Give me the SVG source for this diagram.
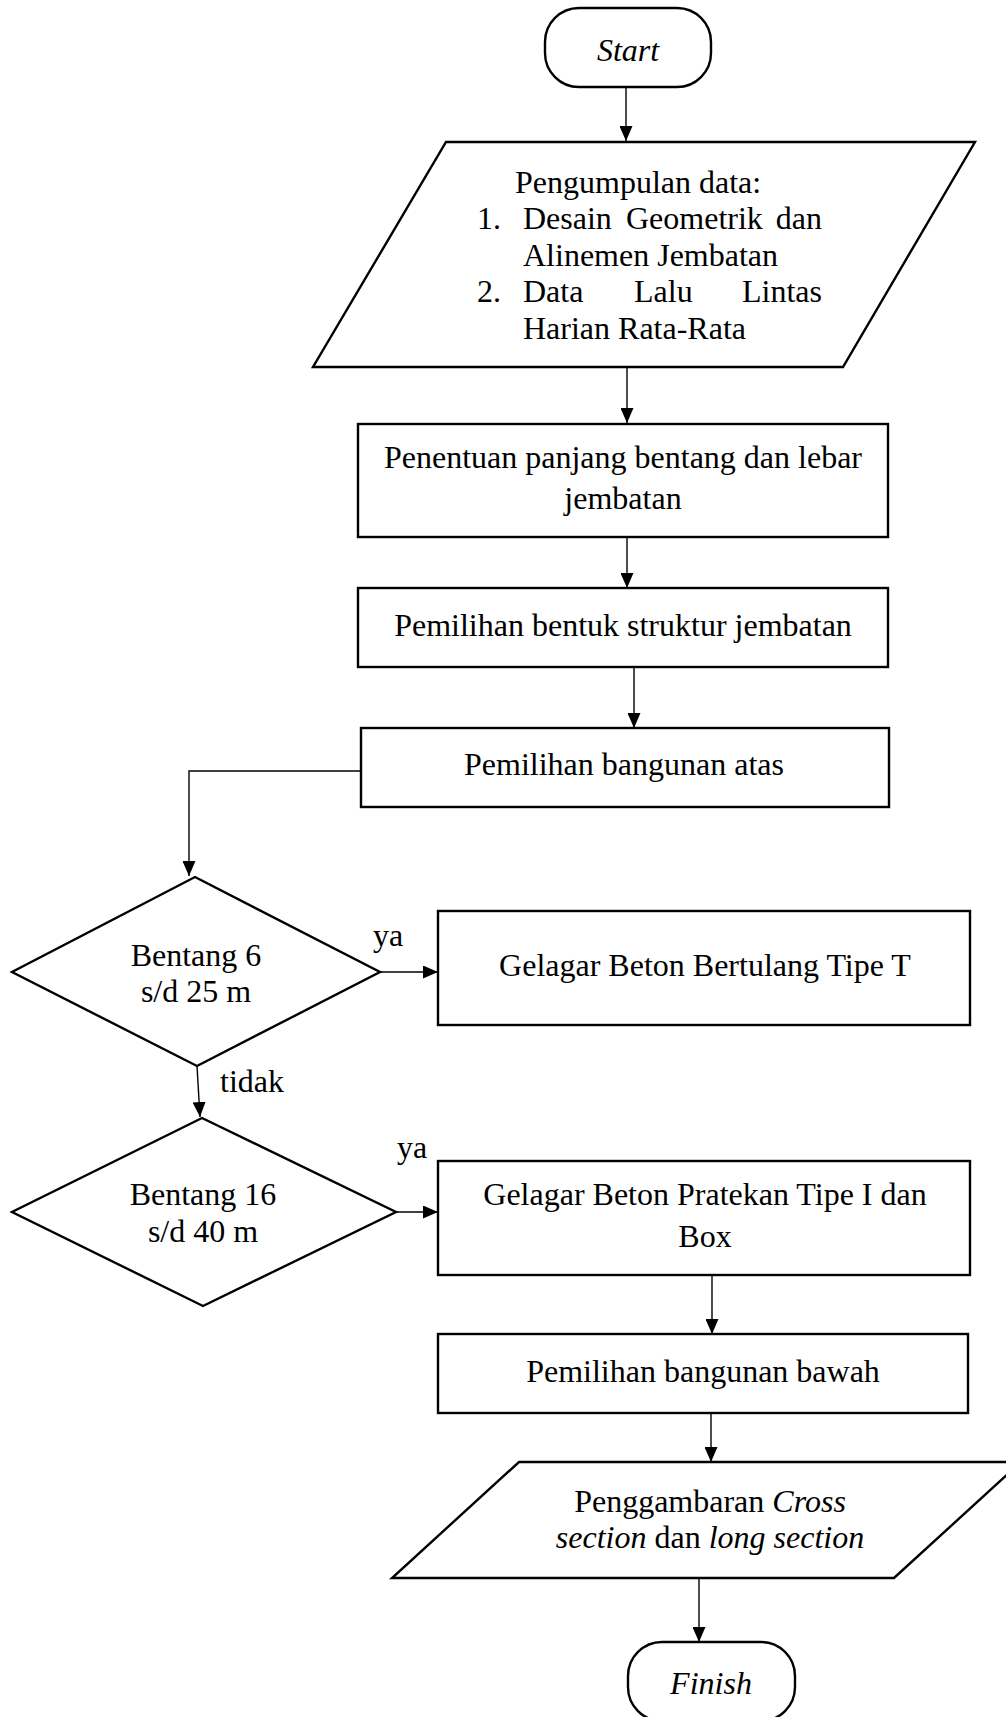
<svg xmlns="http://www.w3.org/2000/svg" width="1006" height="1717" viewBox="0 0 1006 1717">
  <style>
    .shape { fill: #ffffff; stroke: #000000; stroke-width: 2.4; }
    .edge { fill: none; stroke: #000000; stroke-width: 1.4; }
    text { font-family: "Liberation Serif", "Times New Roman", serif; font-size: 32px; fill: #000000; }
    .c { text-anchor: middle; }
    .e { text-anchor: end; }
    .i { font-style: italic; }
  </style>
  <defs>
    <marker id="arrow" markerUnits="userSpaceOnUse" markerWidth="15" markerHeight="13" refX="15" refY="6.5" orient="auto">
      <path d="M0,0 L15,6.5 L0,13 Z" fill="#000000"/>
    </marker>
  </defs>
  <rect width="1006" height="1717" fill="#ffffff"/>

  <!-- connectors and branch labels -->
  <g id="connectors">
    <line class="edge" x1="626" y1="87" x2="626" y2="141" marker-end="url(#arrow)"/>
    <line class="edge" x1="627" y1="367" x2="627" y2="423" marker-end="url(#arrow)"/>
    <line class="edge" x1="627" y1="537" x2="627" y2="588" marker-end="url(#arrow)"/>
    <line class="edge" x1="634" y1="667" x2="634" y2="728" marker-end="url(#arrow)"/>
    <polyline class="edge" points="361,771 189,771 189,876" marker-end="url(#arrow)"/>
    <line class="edge" x1="380" y1="972" x2="438" y2="972" marker-end="url(#arrow)"/>
    <line class="edge" x1="197" y1="1066" x2="200" y2="1117" marker-end="url(#arrow)"/>
    <line class="edge" x1="396" y1="1212" x2="438" y2="1212" marker-end="url(#arrow)"/>
    <line class="edge" x1="712" y1="1275" x2="712" y2="1334" marker-end="url(#arrow)"/>
    <line class="edge" x1="711" y1="1413" x2="711" y2="1462" marker-end="url(#arrow)"/>
    <line class="edge" x1="699" y1="1578" x2="699" y2="1642" marker-end="url(#arrow)"/>
    <text x="373" y="946">ya</text>
    <text x="220" y="1092">tidak</text>
    <text x="397" y="1158">ya</text>
  </g>

  <!-- start terminator -->
  <g id="start">
    <rect class="shape" x="545" y="8" width="166" height="79" rx="34" ry="34"/>
    <text class="c i" x="628" y="61">Start</text>
  </g>

  <!-- data collection input -->
  <g id="data-input">
    <polygon class="shape" points="446,142 975,142 843,367 313,367"/>
    <text x="515" y="193">Pengumpulan data:</text>
    <text x="477" y="229">1.</text>
    <text x="523" y="229">Desain</text>
    <text x="626" y="229">Geometrik</text>
    <text class="e" x="822" y="229">dan</text>
    <text x="523" y="266">Alinemen Jembatan</text>
    <text x="477" y="302">2.</text>
    <text x="523" y="302">Data</text>
    <text x="634" y="302">Lalu</text>
    <text class="e" x="822" y="302">Lintas</text>
    <text x="523" y="339">Harian Rata-Rata</text>
  </g>

  <!-- span and width -->
  <g id="span-width">
    <rect class="shape" x="358" y="424" width="530" height="113"/>
    <text class="c" x="623" y="468">Penentuan panjang bentang dan lebar</text>
    <text class="c" x="623" y="509">jembatan</text>
  </g>

  <!-- structure form -->
  <g id="structure-form">
    <rect class="shape" x="358" y="588" width="530" height="79"/>
    <text class="c" x="623" y="636">Pemilihan bentuk struktur jembatan</text>
  </g>

  <!-- superstructure -->
  <g id="superstructure">
    <rect class="shape" x="361" y="728" width="528" height="79"/>
    <text class="c" x="624" y="775">Pemilihan bangunan atas</text>
  </g>

  <!-- decision: span 6 to 25 m -->
  <g id="decision-25">
    <polygon class="shape" points="195,877 380,972 197,1066 12,972"/>
    <text class="c" x="196" y="966">Bentang 6</text>
    <text class="c" x="196" y="1002">s/d 25 m</text>
  </g>

  <!-- reinforced T girder -->
  <g id="t-girder">
    <rect class="shape" x="438" y="911" width="532" height="114"/>
    <text class="c" x="705" y="976">Gelagar Beton Bertulang Tipe T</text>
  </g>

  <!-- decision: span 16 to 40 m -->
  <g id="decision-40">
    <polygon class="shape" points="202,1118 396,1212 203,1306 12,1212"/>
    <text class="c" x="203" y="1205">Bentang 16</text>
    <text class="c" x="203" y="1242">s/d 40 m</text>
  </g>

  <!-- prestressed girder -->
  <g id="prestressed-girder">
    <rect class="shape" x="438" y="1161" width="532" height="114"/>
    <text class="c" x="705" y="1205">Gelagar Beton Pratekan Tipe I dan</text>
    <text class="c" x="705" y="1247">Box</text>
  </g>

  <!-- substructure -->
  <g id="substructure">
    <rect class="shape" x="438" y="1334" width="530" height="79"/>
    <text class="c" x="703" y="1382">Pemilihan bangunan bawah</text>
  </g>

  <!-- cross and long section drawing -->
  <g id="drawing-output">
    <polygon class="shape" points="519,1462 1021,1462 894,1578 392,1578"/>
    <text class="c" x="710" y="1512">Penggambaran <tspan class="i">Cross</tspan></text>
    <text class="c" x="710" y="1548"><tspan class="i">section</tspan> dan <tspan class="i">long section</tspan></text>
  </g>

  <!-- finish terminator -->
  <g id="finish">
    <rect class="shape" x="628" y="1642" width="167" height="79" rx="34" ry="34"/>
    <text class="c i" x="711" y="1694">Finish</text>
  </g>
</svg>
